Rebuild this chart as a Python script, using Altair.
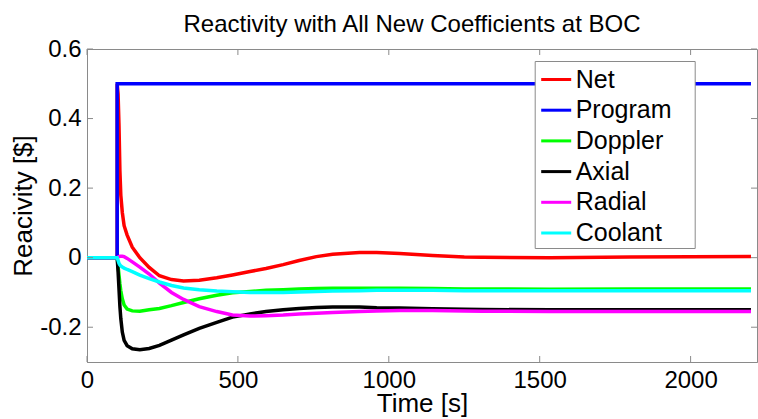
import altair as alt
import pandas as pd

# Sample times [s] shared by the feedback components
time_s = [0, 100, 103, 106, 109, 112, 117, 123, 133, 150, 175, 206, 240, 280, 320,
          372, 430, 482, 540, 593, 650, 703, 760, 814, 903, 960, 1036, 1145, 1250,
          1311, 1533, 1800, 2200]

# Net reactivity jumps with the program step at t = 100 s
net_time = [0, 100, 100, 103, 106, 109, 112, 117, 123, 133, 150, 175, 206, 240, 280,
            320, 372, 430, 482, 540, 593, 650, 703, 760, 814, 903, 960, 1036, 1145,
            1250, 1311, 1533, 1800, 2200]
net = [0.0, 0.0, 0.5, 0.47, 0.38, 0.25, 0.18, 0.13, 0.092, 0.065, 0.03, 0.0, -0.028,
       -0.052, -0.063, -0.067, -0.065, -0.058, -0.05, -0.04, -0.031, -0.02, -0.008,
       0.003, 0.01, 0.015, 0.015, 0.012, 0.006, 0.002, 0.001, 0.0, 0.002, 0.003]

doppler = [0.0, 0.0, -0.025, -0.05, -0.075, -0.095, -0.118, -0.136, -0.148, -0.153,
           -0.154, -0.15, -0.146, -0.138, -0.129, -0.118, -0.108, -0.101, -0.097,
           -0.094, -0.092, -0.09, -0.089, -0.088, -0.088, -0.088, -0.088, -0.089,
           -0.09, -0.09, -0.091, -0.09, -0.09]

axial = [0.0, 0.0, -0.04, -0.09, -0.14, -0.175, -0.214, -0.238, -0.253, -0.262,
         -0.265, -0.261, -0.252, -0.237, -0.222, -0.203, -0.186, -0.171, -0.162,
         -0.155, -0.15, -0.146, -0.143, -0.142, -0.142, -0.144, -0.145, -0.147,
         -0.148, -0.149, -0.15, -0.15, -0.15]

radial = [0.0, 0.0, 0.002, 0.003, 0.004, 0.004, 0.004, 0.003, -0.002, -0.012,
          -0.027, -0.047, -0.073, -0.1, -0.12, -0.141, -0.155, -0.165, -0.168,
          -0.167, -0.165, -0.162, -0.16, -0.158, -0.155, -0.153, -0.152, -0.152,
          -0.153, -0.154, -0.155, -0.155, -0.155]

coolant = [0.0, 0.0, -0.008, -0.016, -0.021, -0.024, -0.027, -0.03, -0.034, -0.04,
           -0.05, -0.06, -0.07, -0.08, -0.087, -0.092, -0.096, -0.098, -0.1, -0.1,
           -0.1, -0.099, -0.097, -0.096, -0.095, -0.094, -0.094, -0.094, -0.095,
           -0.095, -0.095, -0.095, -0.095]

# Programmed step insertion of 50 cents at t = 100 s
program_time = [0, 100, 100, 2200]
program = [0.0, 0.0, 0.5, 0.5]

series_names = ["Net", "Program", "Doppler", "Axial", "Radial", "Coolant"]
series_colors = ["#ff0000", "#0000ff", "#00ff00", "#000000", "#ff00ff", "#00ffff"]

x_ticks = [0, 500, 1000, 1500, 2000]
y_ticks = [-0.2, 0, 0.2, 0.4, 0.6]

series_data = {
    "Net": (net_time, net),
    "Program": (program_time, program),
    "Doppler": (time_s, doppler),
    "Axial": (time_s, axial),
    "Radial": (time_s, radial),
    "Coolant": (time_s, coolant),
}

rows = []
for name in series_names:
    times, vals = series_data[name]
    for i, (t, v) in enumerate(zip(times, vals)):
        rows.append({"series": name, "time": t, "value": v, "step": i})
df = pd.DataFrame(rows)

W, H = 670, 313
FONT = "Liberation Sans"
GRAY = "#8a8a8a"

x_scale = alt.Scale(domain=[0, 2220], nice=False, zero=False)
y_scale = alt.Scale(domain=[-0.3, 0.6], nice=False, zero=False)

x_axis = alt.Axis(
    values=x_ticks,
    format="d",
    title="Time [s]",
    labelPadding=6,
    labelFlush=False,
    titleY=49.5,
    titleBaseline="alphabetic",
)
y_axis = alt.Axis(
    values=y_ticks,
    title="Reacivity [$]",
    labelExpr="'' + datum.value",
    labelPadding=6,
    labelFlush=False,
    titleX=-56,
    titleY=H / 2,
    titleAlign="center",
    titleBaseline="alphabetic",
)

# Trailing no-break spaces (kept by a zero-width space) give the legend box
# some room to the right of the labels
color = alt.Color(
    "series:N",
    scale=alt.Scale(domain=series_names, range=series_colors),
    legend=alt.Legend(
        title=None,
        orient="none",
        legendX=447.7,
        legendY=12,
        direction="vertical",
        symbolType="stroke",
        symbolSize=900,
        symbolStrokeWidth=3,
        labelFont=FONT,
        labelFontSize=25,
        labelColor="black",
        labelOffset=3,
        labelExpr="datum.label + '\u00a0\u00a0\u00a0\u200b'",
        padding=2,
        symbolOffset=3,
        rowPadding=0.7,
        strokeColor=GRAY,
        fillColor="white",
    ),
)

base = alt.Chart(df).mark_line(strokeWidth=3.5, clip=True).encode(
    x=alt.X("time:Q", scale=x_scale, axis=x_axis),
    y=alt.Y("value:Q", scale=y_scale, axis=y_axis),
    color=color,
    order=alt.Order("step:Q"),
)

# One layer per series so later series are drawn on top
line_layers = [base.transform_filter(alt.datum.series == name) for name in series_names]

# Inward-pointing tick marks on all four sides of the box
xt = pd.DataFrame({"t": x_ticks})
yt = pd.DataFrame({"v": y_ticks})
tick_len = 6

x_bottom = alt.Chart(xt).mark_rule(color=GRAY, strokeWidth=1).encode(
    x=alt.X("t:Q", scale=x_scale, axis=x_axis),
    y=alt.value(H),
    y2=alt.value(H - tick_len),
)
x_top = alt.Chart(xt).mark_rule(color=GRAY, strokeWidth=1).encode(
    x=alt.X("t:Q", scale=x_scale, axis=x_axis),
    y=alt.value(0),
    y2=alt.value(tick_len),
)
y_left = alt.Chart(yt).mark_rule(color=GRAY, strokeWidth=1).encode(
    y=alt.Y("v:Q", scale=y_scale, axis=y_axis),
    x=alt.value(0),
    x2=alt.value(tick_len),
)
y_right = alt.Chart(yt).mark_rule(color=GRAY, strokeWidth=1).encode(
    y=alt.Y("v:Q", scale=y_scale, axis=y_axis),
    x=alt.value(W - tick_len),
    x2=alt.value(W),
)

chart = alt.layer(
    *line_layers, x_bottom, x_top, y_left, y_right
).properties(
    width=W,
    height=H,
    padding={"left": 87, "top": 49, "right": 1, "bottom": 57},
    autosize=alt.AutoSizeParams(type="none"),
    title=alt.TitleParams(
        text="Reactivity with All New Coefficients at BOC",
        font=FONT,
        fontSize=24,
        fontWeight="normal",
        color="black",
        anchor="middle",
        frame="group",
        baseline="alphabetic",
        offset=6,
        dx=-10,
        dy=25,
    ),
).configure_view(
    stroke=GRAY, strokeWidth=1
).configure_axis(
    grid=False,
    ticks=False,
    domainColor=GRAY,
    domainWidth=1,
    labelFont=FONT,
    labelFontSize=24,
    labelColor="black",
    titleFont=FONT,
    titleFontSize=26,
    titleFontWeight="normal",
    titleColor="black",
)

chart.save("out.html", embed_options={"renderer": "svg", "actions": False})
